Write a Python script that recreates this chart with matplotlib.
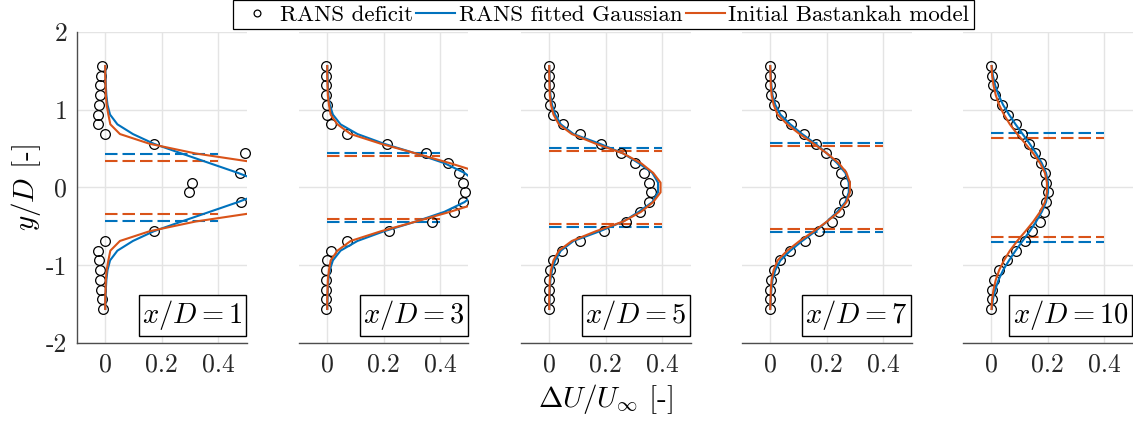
import numpy as np
import matplotlib
matplotlib.use("Agg")
import matplotlib.pyplot as plt

plt.rcParams['font.family'] = ['cmr10', 'DejaVu Serif']
plt.rcParams['mathtext.fontset'] = 'cm'
plt.rcParams['axes.unicode_minus'] = False
plt.rcParams['axes.formatter.use_mathtext'] = False

BLUE = '#0072BD'
ORANGE = '#D95319'

# lateral sampling positions y/D (top to bottom)
y_pts = [1.5625, 1.4375, 1.3125, 1.1875, 1.0625, 0.9375, 0.8125, 0.6875, 0.5625,
         0.4375, 0.3125, 0.1875, 0.0625, -0.0625, -0.1875, -0.3125, -0.4375,
         -0.5625, -0.6875, -0.8125, -0.9375, -1.0625, -1.1875, -1.3125, -1.4375,
         -1.5625]

x_stations = [1, 3, 5, 7, 10]

# RANS velocity deficit at each station
rans_1 = [-0.011, -0.014, -0.017, -0.018, -0.021, -0.024, -0.026, -0.001, 0.172,
          0.495, 0.56, 0.478, 0.308, 0.297, 0.482, 0.55, 0.53, 0.174, -0.001,
          -0.025, -0.022, -0.019, -0.017, -0.014, -0.013, -0.009]
rans_3 = [-0.003, -0.003, -0.003, -0.003, -0.002, 0.0, 0.014, 0.071, 0.213,
          0.35, 0.427, 0.466, 0.482, 0.488, 0.482, 0.45, 0.37, 0.22, 0.071,
          0.014, 0.0, -0.003, -0.004, -0.004, -0.004, -0.004]
rans_5 = [0.0, 0.0, 0.0, 0.0, 0.004, 0.015, 0.047, 0.11, 0.183, 0.254, 0.302,
          0.337, 0.353, 0.359, 0.353, 0.323, 0.271, 0.195, 0.11, 0.045, 0.015,
          0.004, 0.0, 0.0, 0.0, 0.0]
rans_7 = [0.0, 0.0, 0.0, 0.002, 0.012, 0.039, 0.073, 0.118, 0.163, 0.199, 0.23,
          0.251, 0.264, 0.27, 0.262, 0.245, 0.217, 0.173, 0.122, 0.071, 0.036,
          0.012, 0.002, 0.0, 0.0, 0.0]
rans_10 = [0.0, 0.004, 0.006, 0.015, 0.038, 0.061, 0.086, 0.11, 0.134, 0.155,
           0.175, 0.19, 0.195, 0.201, 0.195, 0.186, 0.172, 0.144, 0.118, 0.086,
           0.055, 0.029, 0.009, 0.002, 0.001, 0.0]

# Gaussian fitted to the RANS deficit
fit_1 = [0.0, 0.001, 0.002, 0.004, 0.008, 0.017, 0.043, 0.098, 0.172, 0.27, 0.37,
         0.47, 0.56, 0.56, 0.47, 0.37, 0.27, 0.172, 0.098, 0.043, 0.017, 0.008,
         0.004, 0.002, 0.001, 0.0]
fit_3 = [0.0, 0.001, 0.002, 0.004, 0.009, 0.02, 0.047, 0.107, 0.201, 0.314, 0.415,
         0.486, 0.53, 0.53, 0.486, 0.415, 0.314, 0.201, 0.107, 0.047, 0.02, 0.009,
         0.004, 0.002, 0.001, 0.0]
fit_5 = [0.0, 0.001, 0.002, 0.004, 0.010, 0.021, 0.041, 0.086, 0.179, 0.262, 0.317,
         0.365, 0.385, 0.385, 0.365, 0.317, 0.262, 0.179, 0.086, 0.041, 0.021,
         0.010, 0.004, 0.002, 0.001, 0.0]
fit_7 = [0.0, 0.002, 0.004, 0.008, 0.018, 0.036, 0.071, 0.113, 0.16, 0.201, 0.237,
         0.266, 0.278, 0.278, 0.266, 0.237, 0.201, 0.16, 0.113, 0.071, 0.036,
         0.018, 0.008, 0.004, 0.002, 0.0]
fit_10 = [0.002, 0.006, 0.014, 0.026, 0.042, 0.063, 0.086, 0.111, 0.136, 0.159,
          0.179, 0.194, 0.201, 0.201, 0.194, 0.179, 0.159, 0.136, 0.111, 0.086,
          0.063, 0.042, 0.026, 0.014, 0.006, 0.002]

# initial Bastankhah model
bast_1 = [0.0, 0.0, 0.001, 0.002, 0.005, 0.011, 0.018, 0.052, 0.157, 0.32, 0.55,
          0.85, 1.0, 1.0, 0.85, 0.55, 0.32, 0.157, 0.052, 0.018, 0.011, 0.005,
          0.002, 0.001, 0.0, 0.0]
bast_3 = [0.0, 0.0, 0.001, 0.002, 0.006, 0.012, 0.036, 0.083, 0.19, 0.314, 0.435,
          0.545, 0.58, 0.58, 0.545, 0.435, 0.314, 0.19, 0.083, 0.036, 0.012, 0.006,
          0.002, 0.001, 0.0, 0.0]
bast_5 = [0.0, 0.0, 0.001, 0.002, 0.006, 0.015, 0.034, 0.08, 0.165, 0.262, 0.325,
          0.368, 0.394, 0.394, 0.368, 0.325, 0.262, 0.165, 0.08, 0.034, 0.015,
          0.006, 0.002, 0.001, 0.0, 0.0]
bast_7 = [0.0, 0.001, 0.002, 0.005, 0.012, 0.026, 0.06, 0.104, 0.154, 0.201, 0.243,
          0.27, 0.282, 0.282, 0.27, 0.243, 0.201, 0.154, 0.104, 0.06, 0.026, 0.012,
          0.005, 0.002, 0.001, 0.0]
bast_10 = [0.001, 0.003, 0.008, 0.016, 0.028, 0.045, 0.066, 0.092, 0.121, 0.149,
           0.173, 0.19, 0.197, 0.197, 0.19, 0.173, 0.149, 0.121, 0.092, 0.066,
           0.045, 0.028, 0.016, 0.008, 0.003, 0.001]

# wake half widths (shown as dashed lines at +/-)
width_fit = [0.432, 0.449, 0.51, 0.575, 0.696]
width_bast = [0.34, 0.406, 0.466, 0.532, 0.632]
dash_x = [0, 0.4]

rans = [rans_1, rans_3, rans_5, rans_7, rans_10]
fits = [fit_1, fit_3, fit_5, fit_7, fit_10]
basts = [bast_1, bast_3, bast_5, bast_7, bast_10]

W, H = 1133, 423
fig = plt.figure(figsize=(W / 100, H / 100), dpi=100)

ax_left = [77, 299, 521, 742, 963]
ax_w = 169.5
ax_top, ax_bot = 32, 343

xmax = 0.5
axes = []
for i, xd in enumerate(x_stations):
    ax = fig.add_axes([ax_left[i] / W, 1 - ax_bot / H, ax_w / W, (ax_bot - ax_top) / H])
    axes.append(ax)
    yv = np.array(y_pts)
    du = np.array(rans[i])
    keep = du <= xmax
    h_r, = ax.plot(du[keep], yv[keep], 'o', mfc='none', mec='k', ms=7, mew=0.9,
                   clip_on=False, zorder=3, label='RANS deficit')
    h_f, = ax.plot(fits[i], y_pts, '-', color=BLUE, lw=1.5, zorder=4,
                   label='RANS fitted Gaussian')
    h_b, = ax.plot(basts[i], y_pts, '-', color=ORANGE, lw=1.5, zorder=4,
                   label='Initial Bastankah model')
    for s in (1, -1):
        ax.plot(dash_x, [s * width_fit[i]] * 2, color=BLUE, lw=1.5,
                ls=(0, (6, 2.4)), zorder=2)
        ax.plot(dash_x, [s * width_bast[i]] * 2, color=ORANGE, lw=1.5,
                ls=(0, (6, 2.4)), zorder=2)

    ax.set_xlim(-0.1, xmax)
    ax.set_ylim(-2, 2)
    ax.set_xticks([0, 0.2, 0.4])
    ax.set_xticklabels(['0', '0.2', '0.4'])
    ax.set_yticks([-2, -1, 0, 1, 2])
    ax.grid(True, color='#e4e4e4', lw=1.0, zorder=0)
    ax.set_axisbelow(True)
    ax.tick_params(length=0, labelsize=18.5, colors='#262626', pad=7)
    for sp in ('top', 'right'):
        ax.spines[sp].set_visible(False)
    ax.spines['bottom'].set_color('#4d4d4d')
    ax.spines['bottom'].set_linewidth(1.0)
    if i == 0:
        ax.spines['left'].set_color('#4d4d4d')
        ax.spines['left'].set_linewidth(1.0)
        ax.set_yticklabels(['-2', '-1', '0', '1', '2'])
        ax.set_ylabel(r'$y/D$ [-]', fontsize=21, labelpad=2)
    else:
        ax.spines['left'].set_visible(False)
        ax.tick_params(labelleft=False)
    if i == 2:
        ax.set_xlabel(r'$\Delta U/U_\infty$ [-]', fontsize=21, labelpad=4)

    ax.text(0.975, 0.035, r'$x/D = %d$' % xd, transform=ax.transAxes,
            ha='right', va='bottom', fontsize=20.5, zorder=6,
            bbox=dict(boxstyle='square,pad=0.12', fc='white', ec='k', lw=1.0))

leg = fig.legend(handles=[h_r, h_f, h_b], loc='upper center',
                 bbox_to_anchor=(603.5 / W, 1.0), ncol=3, fontsize=16.5,
                 frameon=True, fancybox=False, edgecolor='k', framealpha=1,
                 handlelength=1.7, handletextpad=0.15, columnspacing=0.15,
                 borderpad=0.2, borderaxespad=0.0, markerscale=0.7)
leg.get_frame().set_linewidth(0.9)

fig.savefig('out.png', dpi=100)
